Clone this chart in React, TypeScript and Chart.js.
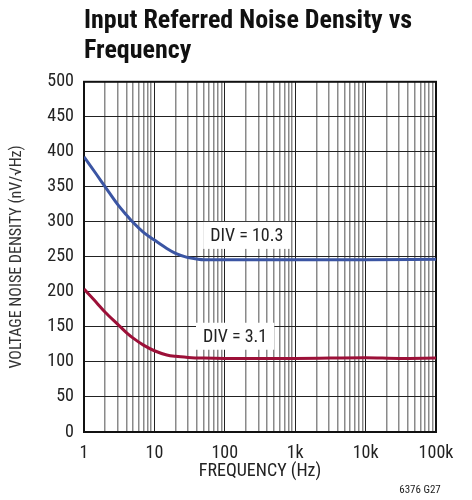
import React, { useEffect, useRef } from "react";
import { Chart, registerables } from "chart.js";

Chart.register(...registerables);

const FONT = '"Liberation Sans Narrow", "Roboto Condensed", "DejaVu Sans Condensed", "Liberation Sans", sans-serif';

const titleLines = ["Input Referred Noise Density vs", "Frequency"];
const xTitle = "FREQUENCY (Hz)";
const yTitle = "VOLTAGE NOISE DENSITY (nV/\u221AHz)";
const footnote = "6376 G27";

const xDecadeLabels: Record<number, string> = { 1: "1", 10: "10", 100: "100", 1000: "1k", 10000: "10k", 100000: "100k" };

const blueFreq = [1, 1.5, 2, 3, 4, 5, 7, 10, 15, 20, 30, 40, 50, 70, 100, 1000, 10000, 100000];
const blueNoise = [393, 368, 350, 325, 310, 299, 285, 274, 262, 255, 249, 247, 246, 246, 246, 246, 246, 246.5];
const blueLabel = "DIV = 10.3";

const redFreq = [1, 1.5, 2, 3, 4, 5, 7, 10, 15, 20, 30, 50, 100, 1000, 10000, 30000, 100000];
const redNoise = [204, 185, 171, 154, 142, 134, 124, 116, 110, 108, 106.5, 105.5, 105, 105, 106, 105, 105.5];
const redLabel = "DIV = 3.1";

const BLUE = "#3b55a3";
const RED = "#9c1038";

const labelPositions = [
  { text: blueLabel, freq: 62, value: 280 },
  { text: redLabel, freq: 49, value: 136 },
];

export default function App() {
  const ref = useRef<HTMLCanvasElement>(null);

  useEffect(() => {
    if (!ref.current) return;
    const decorPlugin = {
      id: "decor",
      beforeDatasetsDraw(chart: any) {
        const { ctx, chartArea } = chart;
        ctx.save();
        ctx.strokeStyle = "#111";
        ctx.lineWidth = 2;
        ctx.strokeRect(chartArea.left, chartArea.top, chartArea.right - chartArea.left, chartArea.bottom - chartArea.top);
        ctx.restore();
      },
      afterDatasetsDraw(chart: any) {
        const { ctx } = chart;
        const xs = chart.scales.x;
        const ys = chart.scales.y;
        ctx.save();
        ctx.font = `18px ${FONT}`;
        ctx.textBaseline = "middle";
        ctx.textAlign = "left";
        for (const l of labelPositions) {
          const x = xs.getPixelForValue(l.freq);
          const y = ys.getPixelForValue(l.value);
          const w = ctx.measureText(l.text).width;
          ctx.fillStyle = "#fff";
          ctx.fillRect(x - 7, y - 14, w + 14, 27);
          ctx.fillStyle = "#222";
          ctx.fillText(l.text, x, y + 1);
        }
        ctx.font = `11px ${FONT}`;
        ctx.textAlign = "center";
        ctx.fillStyle = "#222";
        ctx.fillText(footnote, 420, 490);
        ctx.restore();
      },
    };

    const xTicks: number[] = [];
    for (let d = 0; d <= 5; d++) {
      const base = Math.pow(10, d);
      for (let m = 1; m <= (d === 5 ? 1 : 9); m++) xTicks.push(m * base);
    }

    const chart = new Chart(ref.current, {
      type: "line",
      data: {
        datasets: [
          {
            label: blueLabel,
            data: blueFreq.map((f, i) => ({ x: f, y: blueNoise[i] })),
            borderColor: BLUE,
            borderWidth: 3,
            pointRadius: 0,
            cubicInterpolationMode: "monotone",
          },
          {
            label: redLabel,
            data: redFreq.map((f, i) => ({ x: f, y: redNoise[i] })),
            borderColor: RED,
            borderWidth: 3,
            pointRadius: 0,
            cubicInterpolationMode: "monotone",
          },
        ],
      },
      options: {
        responsive: false,
        animation: false,
        layout: { padding: { left: 0, right: 36, top: 0, bottom: 0 } },
        plugins: {
          legend: { display: false },
          tooltip: { enabled: false },
          title: {
            display: true,
            text: titleLines,
            align: "start",
            fullSize: false,
            color: "#111",
            font: { family: FONT, size: 26, weight: "bold", lineHeight: 1.15 },
            padding: { top: 7, bottom: 15 },
          },
        },
        scales: {
          x: {
            type: "logarithmic",
            min: 1,
            max: 100000,
            afterBuildTicks: (s: any) => {
              s.ticks = xTicks.map((v) => ({ value: v }));
            },
            afterFit: (s: any) => {
              s.height = 68;
            },
            ticks: {
              autoSkip: false,
              maxRotation: 0,
              padding: 11,
              color: "#222",
              font: { family: FONT, size: 18 },
              callback: (v: any) => xDecadeLabels[Number(v)] ?? "",
            },
            grid: {
              drawTicks: false,
              color: (c: any) => {
                const v = c.tick ? c.tick.value : 0;
                const lg = Math.log10(v);
                return Math.abs(lg - Math.round(lg)) < 1e-9 ? "#222" : "#8a8a8a";
              },
              lineWidth: (c: any) => {
                const v = c.tick ? c.tick.value : 0;
                const lg = Math.log10(v);
                return Math.abs(lg - Math.round(lg)) < 1e-9 ? 1 : 1.5;
              },
            },
            border: { display: false },
            title: {
              display: true,
              text: xTitle,
              color: "#222",
              font: { family: FONT, size: 18, lineHeight: 1.2 },
              padding: { top: 0, bottom: 18 },
            },
          },
          y: {
            type: "linear",
            min: 0,
            max: 500,
            afterFit: (s: any) => {
              s.width = 84;
            },
            ticks: {
              stepSize: 50,
              padding: 10,
              color: "#222",
              font: { family: FONT, size: 18 },
            },
            grid: { drawTicks: false, color: "#222", lineWidth: 1 },
            border: { display: false },
            title: {
              display: true,
              text: yTitle,
              color: "#333",
              font: { family: FONT, size: 16, lineHeight: 1.2 },
              padding: { top: 7, bottom: 0 },
            },
          },
        },
      },
      plugins: [decorPlugin],
    } as any);
    return () => chart.destroy();
  }, []);

  return (
    <div style={{ position: "absolute", left: 0, top: 0, width: 472, height: 500, background: "#fff" }}>
      <canvas ref={ref} width={472} height={500} />
    </div>
  );
}
